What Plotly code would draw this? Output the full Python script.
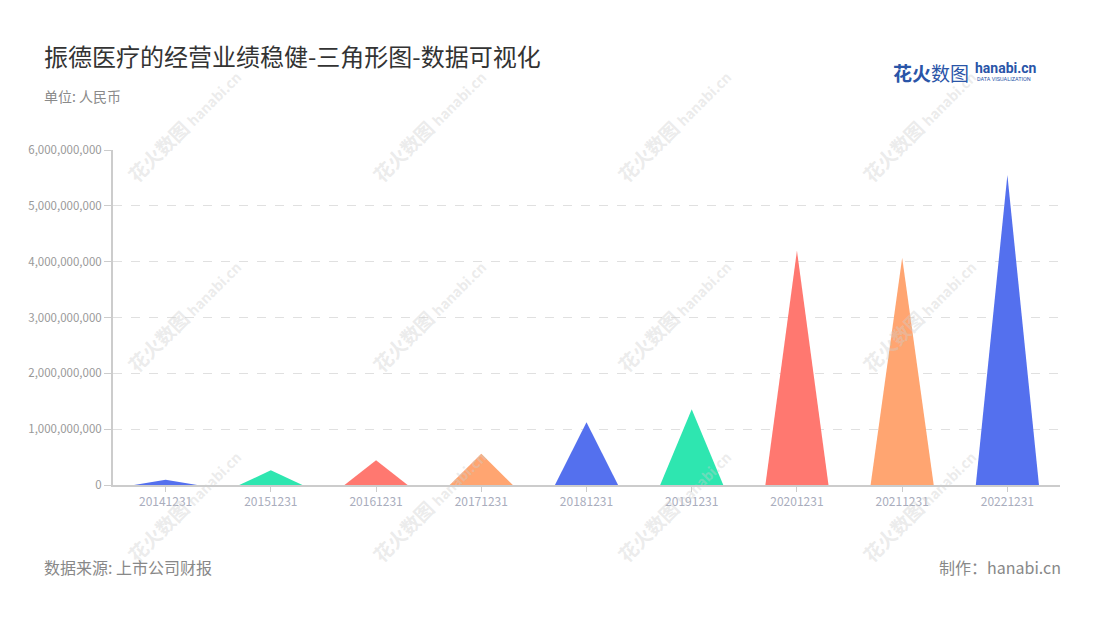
import plotly.graph_objects as go

dates = ["20141231", "20151231", "20161231", "20171231", "20181231",
         "20191231", "20201231", "20211231", "20221231"]
revenue = [95_000_000, 263_000_000, 442_000_000, 561_000_000, 1_123_000_000,
           1_356_000_000, 4_197_000_000, 4_070_000_000, 5_553_000_000]
palette = ["#5470EE", "#2EE6B0", "#FF7870", "#FFA571"]
y_ticks = [0, 1e9, 2e9, 3e9, 4e9, 5e9, 6e9]

FONT = "Noto Sans CJK SC, Noto Sans, sans-serif"
half = 0.3

fig = go.Figure()
for i, (d, v) in enumerate(zip(dates, revenue)):
    fig.add_trace(go.Scatter(
        x=[i - half, i, i + half, i - half],
        y=[0, v, 0, 0],
        mode="lines", fill="toself",
        fillcolor=palette[i % len(palette)],
        line=dict(width=0, color=palette[i % len(palette)]),
        hoveron="fills", name=d, showlegend=False,
    ))

# page body has an 8px margin: plot area on screen is x 113..1060, y 150..485
fig.update_layout(
    width=1100, height=620,
    paper_bgcolor="white", plot_bgcolor="white",
    margin=dict(l=105, r=48, t=142, b=143),
    font=dict(family=FONT),
    xaxis=dict(
        range=[-0.5, len(dates) - 0.5],
        tickmode="array", tickvals=list(range(len(dates))), ticktext=dates,
        showgrid=False, zeroline=False,
        showline=True, linecolor="#cccccc", linewidth=2,
        ticks="outside", ticklen=5, tickcolor="#cccccc",
        tickfont=dict(size=12, color="#a9adbd", family=FONT),
    ),
    yaxis=dict(
        range=[0, 6e9],
        tickmode="array", tickvals=y_ticks,
        tickformat=",d",
        showgrid=True, gridcolor="#e0e0e0", griddash="dash", gridwidth=1,
        zeroline=False,
        showline=True, linecolor="#cccccc", linewidth=2,
        ticks="outside", ticklen=7, tickcolor="#cccccc",
        tickfont=dict(size=11.5, color="#999999", family=FONT),
    ),
)

def pax(sx):
    return (sx - 113) / 947

def pay(sy):
    return (485 - sy) / 335

# watermarks
wm_x = [183, 428, 673, 918]
wm_y = [125, 315, 505]
for wx in wm_x:
    for wy in wm_y:
        fig.add_annotation(
            xref="paper", yref="paper", x=pax(wx), y=pay(wy),
            xanchor="center", yanchor="middle",
            text="<b>花火数图</b> <span style='font-size:14px'><b>hanabi.cn</b></span>",
            showarrow=False, textangle=-45,
            font=dict(size=19, color="rgba(205,205,205,0.4)", family=FONT),
        )

fig.add_annotation(xref="paper", yref="paper", x=pax(42), y=pay(55),
                   xanchor="left", yanchor="middle", showarrow=False,
                   text="振德医疗的经营业绩稳健-三角形图-数据可视化",
                   font=dict(size=24, color="#333333", family=FONT))
fig.add_annotation(xref="paper", yref="paper", x=pax(42), y=pay(96),
                   xanchor="left", yanchor="middle", showarrow=False,
                   text="单位: 人民币",
                   font=dict(size=14, color="#8a8a8a", family=FONT))
fig.add_annotation(xref="paper", yref="paper", x=pax(42), y=pay(567),
                   xanchor="left", yanchor="middle", showarrow=False,
                   text="数据来源: 上市公司财报",
                   font=dict(size=16, color="#888888", family=FONT))
fig.add_annotation(xref="paper", yref="paper", x=pax(1063), y=pay(567),
                   xanchor="right", yanchor="middle", showarrow=False,
                   text="制作：hanabi.cn",
                   font=dict(size=16, color="#888888", family=FONT))
# logo
fig.add_annotation(xref="paper", yref="paper", x=pax(891), y=pay(72),
                   xanchor="left", yanchor="middle", showarrow=False,
                   text="<b>花火</b>数图",
                   font=dict(size=19, color="#2a55a8", family=FONT))
fig.add_annotation(xref="paper", yref="paper", x=pax(973), y=pay(68),
                   xanchor="left", yanchor="middle", showarrow=False,
                   text="<b>hanabi.cn</b>",
                   font=dict(size=14, color="#2a55a8", family="Roboto, sans-serif"))
fig.add_annotation(xref="paper", yref="paper", x=pax(975), y=pay(79),
                   xanchor="left", yanchor="middle", showarrow=False,
                   text="DATA VISUALIZATION",
                   font=dict(size=5.5, color="#2a55a8", family="Roboto, sans-serif"))

fig.write_html("out.html")
